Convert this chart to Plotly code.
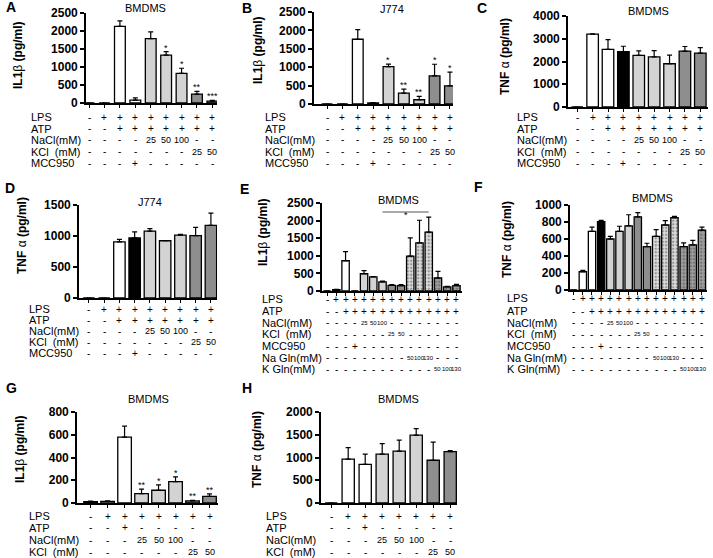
import plotly.graph_objects as go

W, HGT = 713, 558
FONT = "Liberation Sans, Arial, sans-serif"

# ---------------- data ----------------
A_vals = [0, 0, 2130, 80, 1790, 1330, 825, 245, 50]
A_err = [0, 0, 150, 60, 185, 95, 140, 80, 25]
A_sig = ["", "", "", "", "", "*", "*", "**", "***"]

B_vals = [0, 0, 1760, 30, 1015, 295, 115, 765, 495]
B_err = [0, 0, 260, 10, 70, 110, 90, 315, 370]
B_sig = ["", "", "", "", "*", "**", "**", "*", "*"]

C_vals = [0, 3200, 2530, 2430, 2270, 2200, 1900, 2460, 2370]
C_err = [0, 20, 430, 240, 200, 280, 380, 200, 240]

D_vals = [0, 0, 906, 970, 1080, 923, 1015, 1005, 1170]
D_err = [0, 0, 38, 95, 40, 0, 10, 135, 200]

E_vals = [0, 40, 860, 0, 490, 400, 260, 160, 150, 990, 1370, 1670, 370, 120, 150]
E_err = [0, 10, 260, 0, 90, 10, 20, 25, 30, 520, 640, 430, 190, 15, 40]

F_vals = [0, 215, 690, 805, 600, 690, 755, 860, 510, 630, 765, 850, 510, 530, 705]
F_err = [0, 15, 50, 15, 30, 60, 130, 50, 40, 80, 50, 15, 45, 55, 35]

G_vals = [12, 15, 580, 82, 112, 188, 18, 58]
G_err = [5, 5, 95, 40, 48, 42, 6, 22]
G_sig = ["", "", "", "**", "*", "*", "**", "**"]

H_vals = [0, 965, 850, 1075, 1140, 1490, 940, 1130]
H_err = [0, 250, 225, 230, 240, 145, 400, 20]

row_labels_5 = ["LPS", "ATP", "NaCl(mM)", "KCl\u00a0\u00a0(mM)", "MCC950"]
rows_9 = [
    ["-", "+", "+", "+", "+", "+", "+", "+", "+"],
    ["-", "-", "+", "+", "+", "+", "+", "+", "+"],
    ["-", "-", "-", "-", "25", "50", "100", "-", "-"],
    ["-", "-", "-", "-", "-", "-", "-", "25", "50"],
    ["-", "-", "-", "+", "-", "-", "-", "-", "-"],
]
row_labels_7 = ["LPS", "ATP", "NaCl(mM)", "KCl\u00a0\u00a0(mM)", "MCC950", "Na Gln(mM)", "K Gln(mM)"]
rows_15 = [
    ["-"] + ["+"] * 14,
    ["-", "-"] + ["+"] * 13,
    ["-"] * 4 + ["25", "50", "100"] + ["-"] * 8,
    ["-"] * 7 + ["25", "50"] + ["-"] * 6,
    ["-"] * 3 + ["+"] + ["-"] * 11,
    ["-"] * 9 + ["50", "100", "130"] + ["-"] * 3,
    ["-"] * 12 + ["50", "100", "130"],
]
row_labels_4 = ["LPS", "ATP", "NaCl(mM)", "KCl\u00a0\u00a0(mM)"]
rows_8 = [
    ["-", "+", "+", "+", "+", "+", "+", "+"],
    ["-", "-", "+", "-", "-", "-", "-", "-"],
    ["-", "-", "-", "25", "50", "100", "-", "-"],
    ["-", "-", "-", "-", "-", "-", "25", "50"],
]

# ---------------- styles ----------------
WH, BK, LG, DG = "white", "black", "#d3d3d3", "#8e8e8e"
col_AB = [WH, WH, WH, WH, LG, LG, LG, DG, DG]
col_CD = [WH, WH, WH, BK, LG, LG, LG, DG, DG]
col_EF = [WH, WH, WH, BK, LG, LG, LG, DG, DG, "#dadada", "#dadada", "#dadada", "#9c9c9c", "#9c9c9c", "#9c9c9c"]
pat_EF = [""] * 9 + ["."] * 6
pfg_EF = ["black"] * 9 + ["#8a8a8a"] * 3 + ["#3c3c3c"] * 3
col_GH = [WH, WH, WH, LG, LG, LG, DG, DG]

IL = "<b>IL1</b>\u03b2<b> (pg/ml)</b>"
TNF = "<b>TNF </b>\u03b1<b> (pg/ml)</b>"

panels = [
    dict(L="A", T="BMDMS", yt=IL, v=A_vals, e=A_err, s=A_sig, c=col_AB, rl=row_labels_5, rows=rows_9,
         x0=86, x1=217, yb=103, ytp=13, ymax=2500, dt=500, xr=[-0.2, 8.3], bw=0.7,
         Lp=(4, 7), Tp=(145, 8), ytp_=(18, 55), lx=29, ry=[117, 128.5, 140, 151.5, 163.5], nsz=9),
    dict(L="B", T="J774", yt=IL, v=B_vals, e=B_err, s=B_sig, c=col_AB, rl=row_labels_5, rows=rows_9,
         x0=314, x1=453, yb=104, ytp=12, ymax=2500, dt=500, xr=[-0.85, 8.2], bw=0.7,
         Lp=(240, 8), Tp=(392, 9), ytp_=(258, 50), lx=263, ry=[117, 128.5, 140, 151.5, 163.5], nsz=9),
    dict(L="C", T="BMDMS", yt=TNF, v=C_vals, e=C_err, s=None, c=col_CD, rl=row_labels_5, rows=rows_9,
         x0=568, x1=708, yb=107, ytp=16, ymax=4000, dt=1000, xr=[-0.6, 8.5], bw=0.75,
         Lp=(475, 8), Tp=(648, 11), ytp_=(505, 57), lx=515, ry=[117, 128.5, 140, 151.5, 163.5], nsz=9),
    dict(L="D", T="J774", yt=TNF, v=D_vals, e=D_err, s=None, c=col_CD, rl=row_labels_5, rows=rows_9,
         x0=79, x1=217, yb=298, ytp=205, ymax=1500, dt=500, xr=[-0.65, 8.4], bw=0.75,
         Lp=(3, 188), Tp=(150, 202), ytp_=(22, 236), lx=27, ry=[309, 320, 331, 342, 353], nsz=9),
    dict(L="E", T="BMDMS", yt=IL, v=E_vals, e=E_err, s=None, c=col_EF, rl=row_labels_7, rows=rows_15,
         x0=322, x1=462, yb=291, ytp=203, ymax=2500, dt=500, xr=[-0.55, 14.6], bw=0.8,
         Lp=(238, 189), Tp=(398, 200), ytp_=(263, 232), lx=260, ry=[299, 311, 322.5, 334, 346, 357.5, 369], nsz=6),
    dict(L="F", T="BMDMS", yt=TNF, v=F_vals, e=F_err, s=None, c=col_EF, rl=row_labels_7, rows=rows_15,
         x0=570, x1=707, yb=290, ytp=205, ymax=1000, dt=200, xr=[-0.4, 14.55], bw=0.8,
         Lp=(472, 187), Tp=(652, 198), ytp_=(507, 239), lx=505, ry=[298, 311, 322.5, 334, 346, 357.5, 369], nsz=6),
    dict(L="G", T="BMDMS", yt=IL, v=G_vals, e=G_err, s=G_sig, c=col_GH, rl=row_labels_4, rows=rows_8,
         x0=77, x1=218, yb=503, ytp=412, ymax=800, dt=200, xr=[-0.8, 7.5], bw=0.8,
         Lp=(4, 388), Tp=(148, 399), ytp_=(20, 449), lx=27, ry=[516, 527.5, 540, 552], nsz=9),
    dict(L="H", T="BMDMS", yt=TNF, v=H_vals, e=H_err, s=None, c=col_GH, rl=row_labels_4, rows=rows_8,
         x0=321, x1=457, yb=503, ytp=412, ymax=2000, dt=500, xr=[-0.6, 7.4], bw=0.72,
         Lp=(240, 388), Tp=(398, 399), ytp_=(257, 450), lx=264, ry=[516, 527.5, 540, 552], nsz=9),
]


def fx(px):
    return px / W


def fy(py):
    return 1 - py / HGT


fig = go.Figure()
layout = dict(
    template="none",
    width=W, height=HGT, margin=dict(l=0, r=0, t=0, b=0, pad=0), autosize=False,
    paper_bgcolor="white", plot_bgcolor="white", showlegend=False,
    font=dict(family=FONT, color="black"),
)
ann = []
shapes = []

for k, p in enumerate(panels, start=1):
    xa = "x" if k == 1 else f"x{k}"
    ya = "y" if k == 1 else f"y{k}"
    xkey = "xaxis" if k == 1 else f"xaxis{k}"
    ykey = "yaxis" if k == 1 else f"yaxis{k}"
    n = len(p["v"])
    errs = [e if e > 0 else None for e in p["e"]]
    marker = dict(color=p["c"], line=dict(color="black", width=1.3))
    if n == 15:
        marker["pattern"] = dict(shape=pat_EF, fgcolor=pfg_EF, bgcolor=p["c"], size=3.5, solidity=0.35,
                                 fillmode="overlay")
    fig.add_trace(go.Bar(
        x=list(range(n)), y=p["v"], width=p["bw"], marker=marker,
        error_y=dict(type="data", symmetric=False, array=errs, arrayminus=[0] * n,
                     color="black", thickness=1.2, width=2.5),
        xaxis=xa, yaxis=ya, hoverinfo="skip",
    ))
    ticks = list(range(0, p["ymax"] + 1, p["dt"]))
    layout[xkey] = dict(domain=[fx(p["x0"]), fx(p["x1"])], anchor=ya, range=p["xr"],
                        tickvals=list(range(n)), showticklabels=False, ticks="outside",
                        ticklen=3, tickwidth=1.2, tickcolor="black", automargin=False,
                        showline=True, linecolor="black", linewidth=1.7,
                        showgrid=False, zeroline=False, fixedrange=True)
    layout[ykey] = dict(domain=[fy(p["yb"]), fy(p["ytp"])], anchor=xa, range=[0, p["ymax"]],
                        tickvals=ticks, ticktext=[f"<b>{t}</b>" for t in ticks],
                        tickfont=dict(size=12, family=FONT, color="black"), automargin=False,
                        ticks="outside", ticklen=4, tickwidth=1.5, tickcolor="black",
                        showline=True, linecolor="black", linewidth=1.7,
                        showgrid=False, zeroline=False, fixedrange=True)
    # panel letter
    ann.append(dict(x=fx(p["Lp"][0]), y=fy(p["Lp"][1]), xref="paper", yref="paper",
                    text=f"<b>{p['L']}</b>", showarrow=False, xanchor="left", yanchor="middle",
                    font=dict(size=14, family=FONT, color="black")))
    # title
    ann.append(dict(x=fx(p["Tp"][0]), y=fy(p["Tp"][1]), xref="paper", yref="paper",
                    text=p["T"], showarrow=False, xanchor="center", yanchor="middle",
                    font=dict(size=11, family=FONT, color="black")))
    # y title
    ann.append(dict(x=fx(p["ytp_"][0]), y=fy(p["ytp_"][1]), xref="paper", yref="paper",
                    text=p["yt"], textangle=-90, showarrow=False, xanchor="center", yanchor="middle",
                    font=dict(size=12, family=FONT, color="black")))
    # significance stars
    if p["s"]:
        for i, s in enumerate(p["s"]):
            if s:
                ann.append(dict(x=i, y=p["v"][i] + p["e"][i], xref=xa, yref=ya, text=s,
                                showarrow=False, yanchor="bottom", yshift=-3,
                                font=dict(size=9, family=FONT, color="black")))
    # condition table
    for r, (lab, cells) in enumerate(zip(p["rl"], p["rows"])):
        yy = fy(p["ry"][r])
        ann.append(dict(x=fx(p["lx"]), y=yy, xref="paper", yref="paper", text=lab,
                        showarrow=False, xanchor="left", yanchor="middle",
                        font=dict(size=11, family=FONT, color="black")))
        for i, cval in enumerate(cells):
            isnum = cval not in ("+", "-")
            ann.append(dict(x=i, y=yy, xref=xa, yref="paper", text=cval, showarrow=False,
                            xanchor="center", yanchor="middle",
                            font=dict(size=p["nsz"] if isnum else 10, family=FONT, color="black")))

# bracket for panel E
shapes.append(dict(type="line", xref="x5", yref="paper", x0=6, x1=11,
                   y0=fy(212), y1=fy(212), line=dict(color="#555555", width=1)))
ann.append(dict(x=8.5, y=fy(215), xref="x5", yref="paper", text="*", showarrow=False,
                xanchor="center", yanchor="middle", font=dict(size=9, family=FONT, color="black")))

layout["annotations"] = ann
layout["shapes"] = shapes
fig.update_layout(**layout)
fig.write_html("out.html", config={"displayModeBar": False},
               post_script="document.body.style.margin='0px';")
